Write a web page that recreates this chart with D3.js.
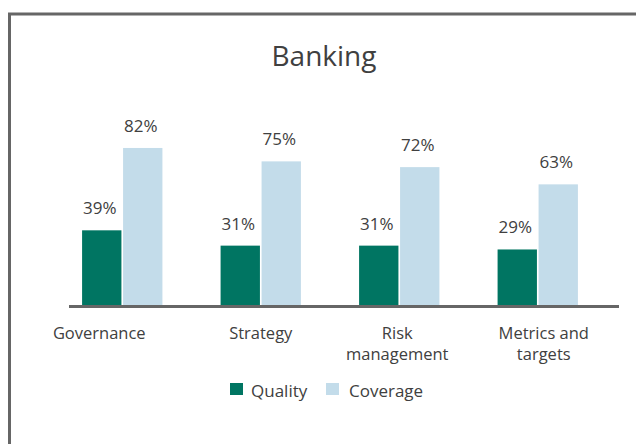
<!DOCTYPE html>
<html lang="en">
<head>
  <meta charset="UTF-8" />
  <title>Banking</title>
  <script src="https://d3js.org/d3.v7.min.js"></script>
  <style>
    body {
      margin: 0;
      background: #fff;
      font-family: 'Open Sans', sans-serif;
    }
    svg text {
      fill: #404040;
    }
  </style>
</head>
<body>
  <svg id="chart" width="636" height="444"></svg>

  <script>
    // Chart data
    const categories = ["Governance", "Strategy", "Risk management", "Metrics and targets"];
    const categoryLines = [["Governance"], ["Strategy"], ["Risk", "management"], ["Metrics and", "targets"]];
    const seriesNames = ["Quality", "Coverage"];
    const quality = [39, 31, 31, 29];
    const coverage = [82, 75, 72, 63];

    const colors = { Quality: "#007562", Coverage: "#c3dcea" };

    // small nudges so the category labels sit where the original put them
    const labelShift = [-23, 0, -2, 6];

    const svg = d3.select("#chart");

    // frame: only top and left edges
    svg.append("line")
      .attr("x1", 8).attr("y1", 14).attr("x2", 636).attr("y2", 14)
      .attr("stroke", "#666").attr("stroke-width", 3);
    svg.append("line")
      .attr("x1", 9.5).attr("y1", 13).attr("x2", 9.5).attr("y2", 444)
      .attr("stroke", "#666").attr("stroke-width", 3);

    svg.append("text")
      .attr("x", 324)
      .attr("y", 66)
      .attr("text-anchor", "middle")
      .attr("font-size", "28px")
      .text("Banking");

    const x0 = d3.scaleBand()
      .domain(categories)
      .range([53, 607])
      .paddingInner(0.42)
      .paddingOuter(0.21);

    const x1 = d3.scaleBand()
      .domain(seriesNames)
      .range([0, x0.bandwidth()])
      .paddingInner(0.04);

    const y = d3.scaleLinear()
      .domain([0, 100])
      .range([305, 113.5]);

    const rows = categories.map((c, i) => ({
      category: c,
      values: [
        { series: "Quality", value: quality[i] },
        { series: "Coverage", value: coverage[i] }
      ]
    }));

    const groups = svg.selectAll(".group")
      .data(rows)
      .enter()
      .append("g")
      .attr("class", "group")
      .attr("transform", d => `translate(${x0(d.category)},0)`);

    groups.selectAll("rect")
      .data(d => d.values)
      .enter()
      .append("rect")
      .attr("x", d => x1(d.series))
      .attr("width", x1.bandwidth())
      .attr("y", d => y(d.value))
      .attr("height", d => y(0) - y(d.value))
      .attr("fill", d => colors[d.series]);

    groups.selectAll(".val")
      .data(d => d.values)
      .enter()
      .append("text")
      .attr("class", "val")
      .attr("x", d => x1(d.series) + x1.bandwidth() / 2 - 2)
      .attr("y", d => y(d.value) - 16)
      .attr("text-anchor", "middle")
      .attr("font-size", "17px")
      .text(d => d.value + "%");

    // baseline
    svg.append("line")
      .attr("x1", 69).attr("x2", 619)
      .attr("y1", y(0) + 1.5).attr("y2", y(0) + 1.5)
      .attr("stroke", "#666").attr("stroke-width", 3);

    // category labels
    categories.forEach((c, i) => {
      const t = svg.append("text")
        .attr("x", x0(c) + x0.bandwidth() / 2 + labelShift[i])
        .attr("y", 339)
        .attr("text-anchor", "middle")
        .attr("font-size", "16.5px");
      categoryLines[i].forEach((line, j) => {
        t.append("tspan")
          .attr("x", x0(c) + x0.bandwidth() / 2 + labelShift[i])
          .attr("dy", j === 0 ? 0 : 21)
          .text(line);
      });
    });

    // legend
    const legendX = [230, 326];
    const legend = svg.selectAll(".legend")
      .data(seriesNames)
      .enter()
      .append("g")
      .attr("class", "legend")
      .attr("transform", (d, i) => `translate(${legendX[i]},383)`);

    legend.append("rect")
      .attr("width", 13)
      .attr("height", 12)
      .attr("fill", d => colors[d]);

    legend.append("text")
      .attr("x", (d, i) => i === 0 ? 21 : 23)
      .attr("y", 14)
      .attr("font-size", "17px")
      .text(d => d);
  </script>
</body>
</html>
